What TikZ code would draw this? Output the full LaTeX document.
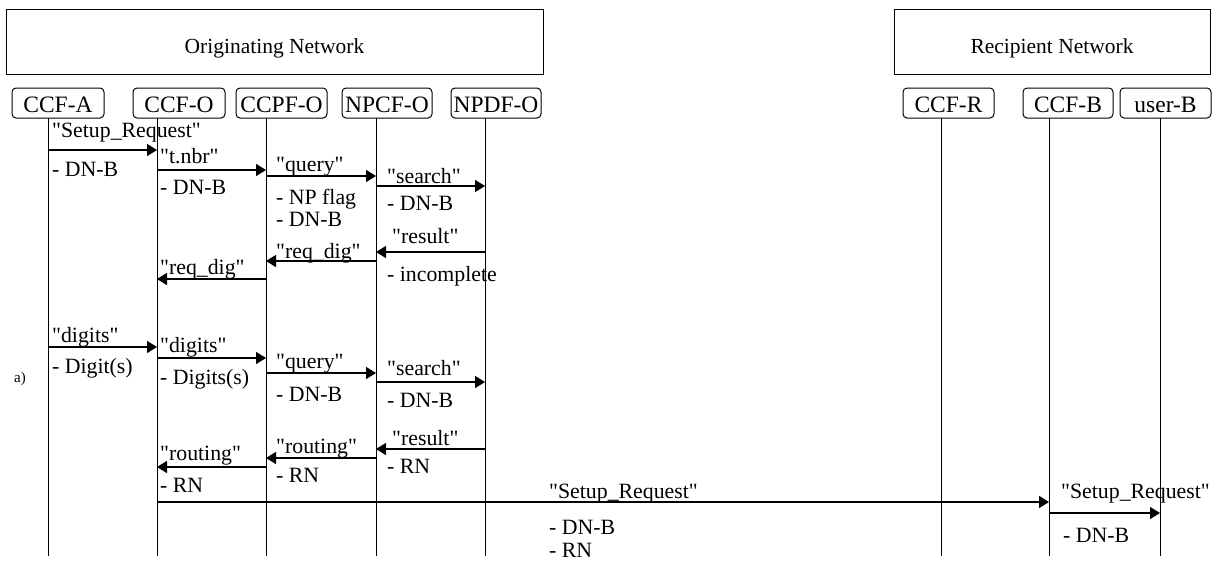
\documentclass[tikz,border=0pt]{standalone}
\usepackage{fontspec}
\setmainfont{Liberation Serif}[Ligatures=TeXOff]
\usetikzlibrary{arrows.meta}
\begin{document}
\begin{tikzpicture}[x=1pt,y=-1pt,
  every node/.style={inner sep=0pt, font=\fontsize{21.8}{24}\selectfont},
  netbox/.style={draw, line width=1pt, minimum height=65pt},
  nettext/.style={anchor=base, font=\fontsize{21.5}{24}\selectfont},
  party/.style={draw, line width=1pt, rounded corners=4pt, minimum height=30pt},
  partytext/.style={anchor=base, font=\fontsize{23.5}{26}\selectfont},
  life/.style={line width=1pt},
  msg/.style={line width=1.4pt, -{Triangle[length=10pt,width=12pt]}},
  lbl/.style={anchor=base west},
]
\useasboundingbox (0,0) rectangle (1215,562);

% network headers
\node[netbox, minimum width=537pt] (orig) at (274.5,41.5) {};
\node[nettext] (origt) at (274.5,53) {Originating Network};
\node[netbox, minimum width=316pt] (recip) at (1052,41.5) {};
\node[nettext] (recipt) at (1052,53) {Recipient Network};

% functional entities
\node[party, minimum width=92pt] (ccfa)  at (58,103)    {};
\node[party, minimum width=92pt] (ccfo)  at (179,103)   {};
\node[party, minimum width=91pt] (ccpfo) at (281.5,103) {};
\node[party, minimum width=90pt] (npcfo) at (387,103)   {};
\node[party, minimum width=90pt] (npdfo) at (496,103)   {};
\node[party, minimum width=91pt] (ccfr)  at (948.5,103) {};
\node[party, minimum width=90pt] (ccfb)  at (1068,103)  {};
\node[party, minimum width=91pt] (userb) at (1165.5,103){};
\foreach \n/\t in {ccfa/CCF-A, ccfo/CCF-O, ccpfo/CCPF-O, npcfo/NPCF-O,
                   npdfo/NPDF-O, ccfr/CCF-R, ccfb/CCF-B, userb/user-B}
  \node[partytext] (\n t) at ([yshift=-9pt]\n.center) {\t};

% lifelines
\coordinate (la) at (48,118);
\coordinate (lo) at (157,118);
\coordinate (lp) at (266,118);
\coordinate (lc) at (376,118);
\coordinate (ld) at (485,118);
\coordinate (lr) at (941,118);
\coordinate (lb) at (1049,118);
\coordinate (lu) at (1160,118);
\foreach \l in {la,lo,lp,lc,ld,lr,lb,lu}
  \draw[life] (\l) -- (\l |- 0,556);

% number query
\draw[msg] (la |- 0,150) -- (lo |- 0,150);
\node[lbl] (m1)  at (52,137) {"Setup\_Request"};
\node[lbl] (m1a) at (52,176) {- DN-B};

\draw[msg] (lo |- 0,170) -- (lp |- 0,170);
\node[lbl] (m2)  at (160,163) {"t.nbr"};
\node[lbl] (m2a) at (160,194) {- DN-B};

\draw[msg] (lp |- 0,176) -- (lc |- 0,176);
\node[lbl] (m3)  at (276,171) {"query"};
\node[lbl] (m3a) at (276,204) {- NP flag};
\node[lbl] (m3b) at (276,226) {- DN-B};

\draw[msg] (lc |- 0,186) -- (ld |- 0,186);
\node[lbl] (m4)  at (387,183) {"search"};
\node[lbl] (m4a) at (387,210) {- DN-B};

\draw[msg] (ld |- 0,252) -- (lc |- 0,252);
\node[lbl] (m5)  at (392,243) {"result"};
\node[lbl] (m5a) at (387,281) {- incomplete};

\draw[msg] (lc |- 0,261) -- (lp |- 0,261);
\node[lbl] (m6)  at (276,258) {"req\_dig"};

\draw[msg] (lp |- 0,279) -- (lo |- 0,279);
\node[lbl] (m7)  at (160,274) {"req\_dig"};

% digit collection
\node[font=\fontsize{15}{18}\selectfont, anchor=base] (tag) at (20,382) {a)};

\draw[msg] (la |- 0,347) -- (lo |- 0,347);
\node[lbl] (m8)  at (52,342) {"digits"};
\node[lbl] (m8a) at (52,373) {- Digit(s)};

\draw[msg] (lo |- 0,358) -- (lp |- 0,358);
\node[lbl] (m9)  at (160,352) {"digits"};
\node[lbl] (m9a) at (160,384) {- Digits(s)};

\draw[msg] (lp |- 0,373) -- (lc |- 0,373);
\node[lbl] (m10)  at (276,368) {"query"};
\node[lbl] (m10a) at (276,401) {- DN-B};

\draw[msg] (lc |- 0,382) -- (ld |- 0,382);
\node[lbl] (m11)  at (387,375) {"search"};
\node[lbl] (m11a) at (387,407) {- DN-B};

\draw[msg] (ld |- 0,449) -- (lc |- 0,449);
\node[lbl] (m12)  at (392,445) {"result"};
\node[lbl] (m12a) at (387,473) {- RN};

\draw[msg] (lc |- 0,458) -- (lp |- 0,458);
\node[lbl] (m13)  at (276,453) {"routing"};
\node[lbl] (m13a) at (276,482) {- RN};

\draw[msg] (lp |- 0,467) -- (lo |- 0,467);
\node[lbl] (m14)  at (160,460) {"routing"};
\node[lbl] (m14a) at (160,492) {- RN};

% call setup towards the recipient network
\draw[msg] (lo |- 0,502) -- (lb |- 0,502);
\node[lbl] (m15)  at (549,498) {"Setup\_Request"};
\node[lbl] (m15a) at (549,534) {- DN-B};
\node[lbl] (m15b) at (549,557) {- RN};

\draw[msg] (lb |- 0,513) -- (lu |- 0,513);
\node[lbl] (m16)  at (1061,498) {"Setup\_Request"};
\node[lbl] (m16a) at (1063,542) {- DN-B};
\end{tikzpicture}
\end{document}
